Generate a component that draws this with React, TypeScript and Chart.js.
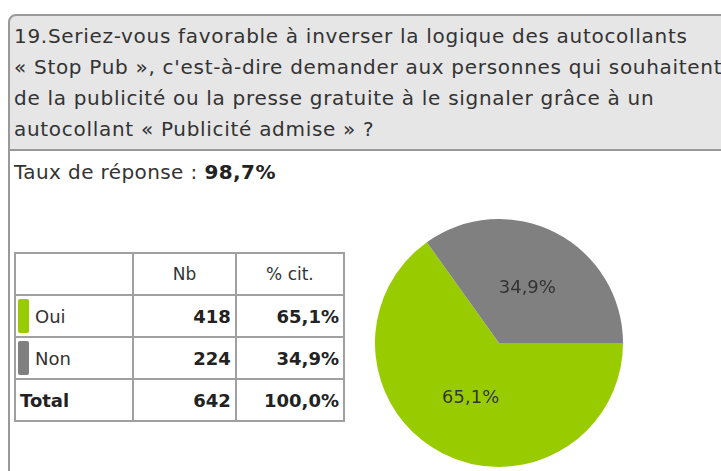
import React, { useEffect, useRef } from "react";
import { Chart, registerables } from "chart.js";

Chart.register(...registerables);

const titleLines = [
  "19.Seriez-vous favorable à inverser la logique des autocollants",
  "« Stop Pub », c'est-à-dire demander aux personnes qui souhaitent",
  "de la publicité ou la presse gratuite à le signaler grâce à un",
  "autocollant « Publicité admise » ?",
];
const responseRateLabel = "Taux de réponse : ";
const responseRate = "98,7%";
const categories = ["Oui", "Non"];
const counts = [418, 224];
const percents = ["65,1%", "34,9%"];
const totalCount = 642;
const totalPercent = "100,0%";
const colors = ["#99cc00", "#808080"];
const headers = ["", "Nb", "% cit."];

const FONT = "'DejaVu Sans', sans-serif";

const labelPlugin = {
  id: "sliceLabels",
  afterDatasetsDraw(chart: any) {
    const ctx = chart.ctx;
    const meta = chart.getDatasetMeta(0);
    ctx.save();
    ctx.font = `18px ${FONT}`;
    ctx.fillStyle = "#333333";
    ctx.textAlign = "center";
    ctx.textBaseline = "middle";
    meta.data.forEach((arc: any, i: number) => {
      const p = arc.getProps(["startAngle", "endAngle", "outerRadius", "x", "y"], true);
      const mid = (p.startAngle + p.endAngle) / 2;
      const r = p.outerRadius * 0.5;
      ctx.fillText(percents[i], p.x + Math.cos(mid) * r, p.y + Math.sin(mid) * r);
    });
    ctx.restore();
  },
};

export default function App() {
  const ref = useRef<HTMLCanvasElement>(null);
  useEffect(() => {
    if (!ref.current) return;
    const chart = new Chart(ref.current, {
      type: "pie",
      data: {
        labels: categories,
        datasets: [
          {
            data: counts,
            backgroundColor: colors,
            borderWidth: 0,
          },
        ],
      },
      options: {
        animation: false,
        responsive: false,
        rotation: 90,
        layout: { padding: 0 },
        plugins: { legend: { display: false }, tooltip: { enabled: false } },
      },
      plugins: [labelPlugin],
    });
    return () => chart.destroy();
  }, []);

  const cell: React.CSSProperties = {
    border: "2px solid #a0a0a0",
    padding: "0 4px",
    height: 40,
    fontSize: 18,
    color: "#222",
  };

  return (
    <div style={{ position: "absolute", left: 0, top: 0, width: 721, height: 471, overflow: "hidden", fontFamily: FONT, background: "#fff" }}>
      <div
        style={{
          position: "absolute",
          left: 8,
          top: 14,
          width: 760,
          height: 128,
          background: "#e6e6e6",
          border: "2px solid #999",
          borderTopLeftRadius: 8,
          paddingTop: 5,
          boxSizing: "content-box",
          color: "#333",
          fontSize: 20,
          letterSpacing: "0.7px",
          lineHeight: "31px",
        }}
      >
        {titleLines.map((l, i) => (
          <div key={i} style={{ paddingLeft: 4, whiteSpace: "nowrap" }}>{l}</div>
        ))}
      </div>
      <div style={{ position: "absolute", left: 8, top: 148, width: 2, height: 330, background: "#999" }} />
      <div style={{ position: "absolute", left: 14, top: 158, fontSize: 20, letterSpacing: "0.4px", lineHeight: "28px", color: "#333" }}>
        {responseRateLabel}
        <b style={{ color: "#222" }}>{responseRate}</b>
      </div>
      <table
        style={{
          position: "absolute",
          left: 14,
          top: 252,
          width: 331,
          borderCollapse: "collapse",
          fontFamily: FONT,
        }}
      >
        <tbody>
          <tr>
            {headers.map((h, i) => (
              <td key={i} style={{ ...cell, width: i === 0 ? 118 : 102, textAlign: "center", color: "#333", fontSize: 17 }}>{h}</td>
            ))}
          </tr>
          {categories.map((c, i) => (
            <tr key={c}>
              <td style={{ ...cell, paddingLeft: 2 }}>
                <span style={{ display: "inline-block", width: 11, height: 34, background: colors[i], borderRadius: 2, verticalAlign: "middle", marginRight: 6 }} />
                <span style={{ verticalAlign: "middle", color: "#333" }}>{c}</span>
              </td>
              <td style={{ ...cell, textAlign: "right", fontWeight: "bold" }}>{counts[i]}</td>
              <td style={{ ...cell, textAlign: "right", fontWeight: "bold" }}>{percents[i]}</td>
            </tr>
          ))}
          <tr>
            <td style={{ ...cell, fontWeight: "bold" }}>Total</td>
            <td style={{ ...cell, textAlign: "right", fontWeight: "bold" }}>{totalCount}</td>
            <td style={{ ...cell, textAlign: "right", fontWeight: "bold" }}>{totalPercent}</td>
          </tr>
        </tbody>
      </table>
      <canvas ref={ref} width={248} height={248} style={{ position: "absolute", left: 375, top: 219 }} />
    </div>
  );
}
